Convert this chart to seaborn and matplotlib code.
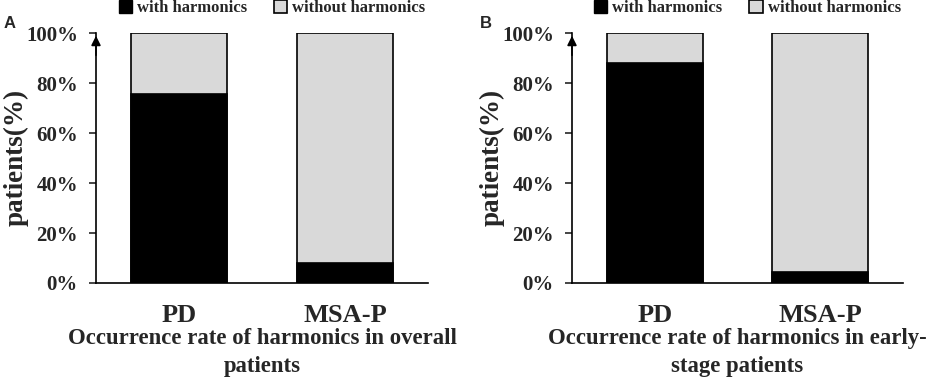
import matplotlib
matplotlib.use("Agg")
import matplotlib.pyplot as plt
from matplotlib.patches import Patch
import seaborn as sns

# dados
categories = ["PD", "MSA-P"]
overall_with = [75.8, 8.0]
early_with = [88.2, 4.6]
totals = [100, 100]
ytick_values = [0, 20, 40, 60, 80, 100]
xlabels = ["Occurrence rate of harmonics in overall\npatients",
           "Occurrence rate of harmonics in early-\nstage patients"]
legend_labels = ["with harmonics", "without harmonics"]
panel_letters = ["A", "B"]

sns.set_style("white")
plt.rcParams["font.family"] = ["Liberation Serif", "DejaVu Serif"]
plt.rcParams["font.weight"] = "bold"

gray = "#d9d9d9"
black = "#000000"

fig = plt.figure(figsize=(9.4, 3.86), dpi=100)
positions = [[96 / 940, 1 - 283 / 386, 332 / 940, 250 / 386],
             [572 / 940, 1 - 283 / 386, 331 / 940, 250 / 386]]

for i, vals in enumerate([overall_with, early_with]):
    ax = fig.add_axes(positions[i])
    sns.barplot(x=categories, y=totals, color=gray, saturation=1, width=0.58,
                edgecolor=black, linewidth=1.2, ax=ax)
    sns.barplot(x=categories, y=vals, color=black, saturation=1, width=0.58,
                edgecolor=black, linewidth=1.2, ax=ax)
    ax.set_xlim(-0.5, 1.5)
    ax.set_ylim(0, 100)
    ax.set_yticks(ytick_values)
    ax.set_yticklabels([f"{v}%" for v in ytick_values], fontsize=15, fontweight="bold")
    ax.set_xticks(range(len(categories)))
    ax.set_xticklabels(categories, fontsize=19, fontweight="bold")
    ax.tick_params(axis="x", length=0, pad=15)
    ax.tick_params(axis="y", length=5, width=1.2, direction="out", pad=8, left=True)
    for s in ["top", "right"]:
        ax.spines[s].set_visible(False)
    for s in ["left", "bottom"]:
        ax.spines[s].set_color(black)
        ax.spines[s].set_linewidth(1.2)
    ax.set_ylabel("")
    ax.set_xlabel(xlabels[i], fontsize=16.4, fontweight="bold", labelpad=1, linespacing=1.45)
    # seta no eixo y
    ax.annotate("", xy=(0, 1.0), xytext=(0, 0.9), xycoords="axes fraction",
                arrowprops=dict(arrowstyle="-|>", color=black, lw=1.2, mutation_scale=14))
    handles = [Patch(facecolor=black, edgecolor=black),
               Patch(facecolor=gray, edgecolor=black, linewidth=1.2)]
    ax.legend(handles, legend_labels, loc="center", bbox_to_anchor=(0.53, 1.1), ncol=2,
              frameon=False, handlelength=0.8, handleheight=0.8,
              handletextpad=0.3, columnspacing=1.6, prop={"weight": "bold", "size": 12})
    x0 = positions[i][0]
    fig.text(x0 - 80 / 940, 1 - 157 / 386, "patients(%)", rotation=90, fontsize=19.5,
             fontweight="bold", ha="center", va="center")
    fig.text(x0 - 86 / 940, 1 - 24 / 386, panel_letters[i], fontsize=12, fontweight="bold",
             family="Liberation Sans", ha="center", va="center")

fig.savefig("out.png", dpi=100)
